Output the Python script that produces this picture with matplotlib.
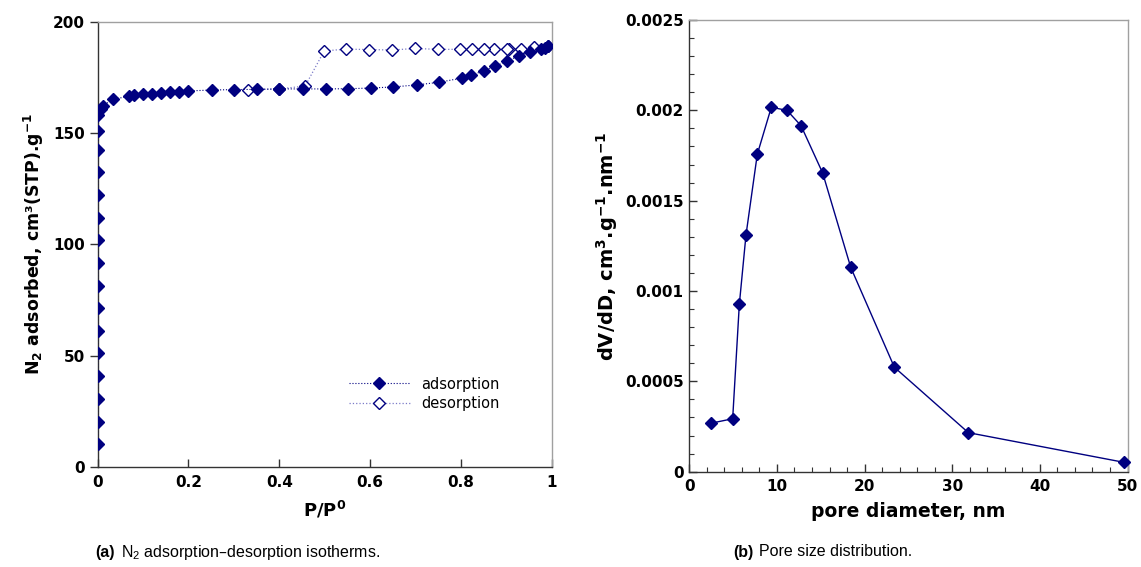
import matplotlib
matplotlib.use("Agg")
import matplotlib.pyplot as plt
from matplotlib.ticker import MultipleLocator, FuncFormatter

# ---------------- data ----------------
ads_p = [0.0, 0.0, 0.0, 0.0, 0.0, 0.0, 0.0, 0.0, 0.0, 0.0, 0.0, 0.0, 0.0, 0.0,
         0.001, 0.001, 0.0066, 0.012, 0.033, 0.069, 0.081, 0.10, 0.12, 0.139,
         0.16, 0.18, 0.20, 0.251, 0.30, 0.352, 0.40, 0.452, 0.502, 0.552,
         0.602, 0.651, 0.703, 0.752, 0.803, 0.822, 0.851, 0.876, 0.902, 0.928,
         0.953, 0.977, 0.985, 0.993]
ads_v = [10.1, 20.2, 30.4, 40.8, 51.0, 61.0, 71.2, 81.4, 91.6, 101.8, 112.0,
         122.2, 132.4, 142.3, 151.0, 158.2, 160.9, 162.4, 165.2, 166.6, 167.0,
         167.5, 167.8, 168.2, 168.5, 168.7, 169.0, 169.4, 169.6, 169.7, 169.9,
         169.9, 169.9, 170.0, 170.3, 170.8, 171.7, 172.9, 174.8, 176.0, 178.1,
         180.2, 182.4, 184.8, 186.4, 187.7, 188.4, 189.3]

des_p = [0.993, 0.962, 0.932, 0.907, 0.902, 0.874, 0.850, 0.824, 0.799, 0.749,
         0.699, 0.649, 0.598, 0.548, 0.499, 0.457, 0.400, 0.332]
des_v = [189.3, 188.9, 187.7, 187.7, 187.7, 187.7, 187.7, 187.7, 187.7, 187.7,
         188.1, 187.4, 187.6, 187.8, 187.0, 171.2, 169.9, 169.6]

pore_d = [2.44, 4.95, 5.71, 6.47, 7.76, 9.36, 11.15, 12.75, 15.22, 18.42,
          23.4, 31.84, 49.57]
dvdd = [0.000268, 0.000293, 0.000926, 0.00131, 0.001757, 0.002017, 0.002,
        0.001915, 0.001653, 0.001131, 0.000578, 0.000216, 0.000052]

left_xticks = [0, 0.2, 0.4, 0.6, 0.8, 1]
left_yticks = [0, 50, 100, 150, 200]
right_xticks = [0, 10, 20, 30, 40, 50]
right_yticks = [0, 0.0005, 0.001, 0.0015, 0.002, 0.0025]

# ---------------- style ----------------
plt.rcParams['font.family'] = ['DejaVu Sans']
plt.rcParams['mathtext.default'] = 'bf'
NAVY = '#000080'
LIGHT = '#7b7bc8'
SPINE_DARK = '#333333'
SPINE_LIGHT = '#a0a0a0'
TICK_FS = 11
LABEL_FS = 13
MS = 6.5
fmt = FuncFormatter(lambda v, p: '%g' % v)

fig = plt.figure(figsize=(11.41, 5.67), dpi=100)

# ---- left panel ----
ax1 = fig.add_axes([0.0856, 0.1769, 0.3979, 0.7843])
ax1.plot(ads_p, ads_v, linestyle=':', color=NAVY, lw=0.8, marker='D',
         ms=MS, mfc=NAVY, mec=NAVY, label='adsorption', zorder=3)
ax1.plot(des_p, des_v, linestyle=':', color=LIGHT, lw=0.9, marker='D',
         ms=MS, mfc='white', mec=NAVY, mew=1.0, label='desorption', zorder=2)
ax1.set_xlim(0, 1)
ax1.set_ylim(0, 200)
ax1.set_xticks(left_xticks)
ax1.set_yticks(left_yticks)
ax1.xaxis.set_major_formatter(fmt)
ax1.tick_params(axis='x', direction='in', length=6, width=1, color=SPINE_DARK, pad=6)
ax1.tick_params(axis='y', direction='out', length=6, width=1, color=SPINE_DARK, pad=3)
for lab in ax1.get_xticklabels() + ax1.get_yticklabels():
    lab.set_fontweight('bold')
    lab.set_fontsize(TICK_FS)
ax1.set_xlabel('P/P$^0$', fontsize=LABEL_FS, fontweight='bold', labelpad=7)
ax1.set_ylabel('N$_2$ adsorbed, cm\u00b3(STP).g$^{-1}$', fontsize=12.5,
               fontweight='bold', labelpad=5.5)
leg = ax1.legend(loc='lower right', bbox_to_anchor=(0.915, 0.095), frameon=False,
                 fontsize=10.5, handlelength=4.2, handletextpad=0.8,
                 labelspacing=0.33)

# ---- right panel ----
ax2 = fig.add_axes([0.6041, 0.1681, 0.3841, 0.7966])
ax2.plot(pore_d, dvdd, linestyle='-', color=NAVY, lw=1.0, marker='D', ms=MS,
         mfc=NAVY, mec=NAVY, clip_on=False, zorder=3)
ax2.set_xlim(0, 50)
ax2.set_ylim(0, 0.0025)
ax2.set_xticks(right_xticks)
ax2.set_yticks(right_yticks)
ax2.xaxis.set_minor_locator(MultipleLocator(2))
ax2.yaxis.set_minor_locator(MultipleLocator(0.0001))
ax2.xaxis.set_major_formatter(fmt)
ax2.yaxis.set_major_formatter(fmt)
ax2.tick_params(which='major', direction='in', length=6, width=1, color=SPINE_DARK)
ax2.tick_params(which='minor', direction='in', length=3.5, width=0.8, color=SPINE_DARK)
ax2.tick_params(axis='x', which='both', pad=5)
ax2.tick_params(axis='y', which='both', pad=4)
for lab in ax2.get_xticklabels() + ax2.get_yticklabels():
    lab.set_fontweight('bold')
    lab.set_fontsize(TICK_FS)
ax2.set_xlabel('pore diameter, nm', fontsize=13.5, fontweight='bold', labelpad=6)
ax2.set_ylabel('dV/dD, cm$^3$.g$^{-1}$.nm$^{-1}$', fontsize=14,
               fontweight='bold', labelpad=3.5)

for ax in (ax1, ax2):
    ax.spines['left'].set_color(SPINE_DARK)
    ax.spines['bottom'].set_color(SPINE_DARK)
    ax.spines['top'].set_color(SPINE_LIGHT)
    ax.spines['right'].set_color(SPINE_LIGHT)
    for s in ax.spines.values():
        s.set_linewidth(1.0)

# ---- captions ----
cap_kw = dict(fontsize=11.5, family=['Liberation Sans', 'DejaVu Sans'],
              va='center', ha='left')
fig.text(95 / 1141, 1 - 552 / 567, '(a)', fontweight='bold', **cap_kw)
fig.text(121 / 1141, 1 - 552 / 567,
         'N$\\mathregular{_2}$ adsorption\u2013desorption isotherms.', **cap_kw)
fig.text(733 / 1141, 1 - 552 / 567, '(b)', fontweight='bold', **cap_kw)
fig.text(759 / 1141, 1 - 552 / 567, 'Pore size distribution.', **cap_kw)

fig.savefig('out.png', dpi=100)
